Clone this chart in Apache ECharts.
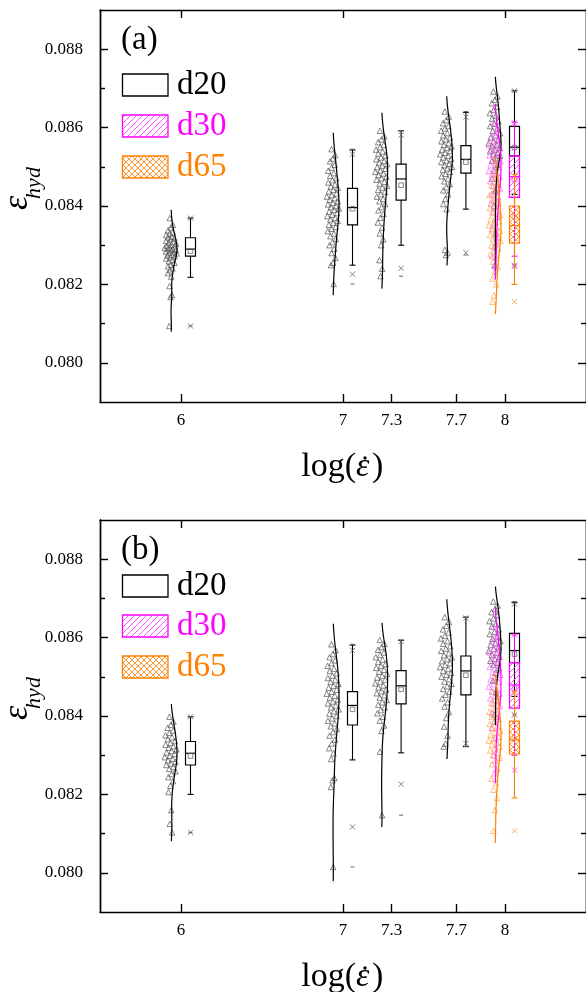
<!DOCTYPE html>
<html><head><meta charset="utf-8">
<script src="https://cdn.jsdelivr.net/npm/echarts@6/dist/echarts.min.js"></script>
<style>html,body{margin:0;padding:0;background:#fff}#c{width:586px;height:992px}</style>
</head><body><div id="c"></div>
<script>
// ---------------- data ----------------
const xCats = [6, 7, 7.3, 7.7, 8];
const xTickLabels = ['6', '7', '7.3', '7.7', '8'];
const topTicks = [6, 7, 8];
const yMajor = [0.080, 0.082, 0.084, 0.086, 0.088];
const yMinor = [0.081, 0.083, 0.085, 0.087];
const seriesNames = ['d20', 'd30', 'd65'];
const panelLabels = ['(a)', '(b)'];

// panel (a) raw points
const ptsA_d20 = [
  [0.08369,0.08352,0.08345,0.08338,0.08333,0.08330,0.08326,0.08322,0.08320,0.08318,0.08315,0.08311,0.08309,0.08306,0.08304,0.08301,0.08299,0.08297,0.08295,0.08293,0.08291,0.08290,0.08288,0.08287,0.08284,0.08282,0.08280,0.08279,0.08276,0.08274,0.08272,0.08269,0.08266,0.08263,0.08259,0.08255,0.08250,0.08246,0.08241,0.08236,0.08229,0.08220,0.08196,0.08173,0.08168,0.08094],
  [0.08545,0.08530,0.08521,0.08514,0.08505,0.08498,0.08490,0.08484,0.08477,0.08471,0.08466,0.08460,0.08455,0.08450,0.08446,0.08441,0.08437,0.08432,0.08428,0.08424,0.08420,0.08416,0.08412,0.08408,0.08404,0.08400,0.08397,0.08394,0.08390,0.08386,0.08382,0.08378,0.08374,0.08370,0.08366,0.08362,0.08357,0.08352,0.08347,0.08342,0.08336,0.08330,0.08323,0.08316,0.08308,0.08300,0.08291,0.08280,0.08268,0.08255,0.08249,0.08201],
  [0.08592,0.08578,0.08570,0.08563,0.08556,0.08550,0.08544,0.08539,0.08534,0.08529,0.08524,0.08519,0.08515,0.08511,0.08507,0.08503,0.08499,0.08495,0.08491,0.08487,0.08483,0.08479,0.08475,0.08471,0.08467,0.08462,0.08457,0.08452,0.08447,0.08441,0.08436,0.08430,0.08424,0.08418,0.08412,0.08405,0.08397,0.08389,0.08380,0.08370,0.08358,0.08345,0.08330,0.08315,0.08300,0.08262,0.08240,0.08221],
  [0.08641,0.08628,0.08619,0.08611,0.08604,0.08598,0.08592,0.08586,0.08580,0.08575,0.08570,0.08565,0.08560,0.08556,0.08552,0.08548,0.08544,0.08540,0.08536,0.08532,0.08528,0.08524,0.08520,0.08516,0.08512,0.08508,0.08504,0.08500,0.08496,0.08492,0.08487,0.08482,0.08476,0.08470,0.08463,0.08456,0.08448,0.08440,0.08430,0.08418,0.08405,0.08392,0.08288,0.08281,0.08275],
  [0.08692,0.08680,0.08671,0.08662,0.08653,0.08645,0.08637,0.08630,0.08623,0.08616,0.08610,0.08604,0.08598,0.08592,0.08586,0.08580,0.08575,0.08570,0.08565,0.08560,0.08556,0.08552,0.08548,0.08544,0.08540,0.08536,0.08532,0.08528,0.08522,0.08515,0.08505,0.08490,0.08470,0.08440,0.08400,0.08330,0.08249]
];
const ptsA_d30 = [null, null, null, null,
  [0.08612,0.08598,0.08586,0.08576,0.08568,0.08561,0.08555,0.08549,0.08544,0.08539,0.08534,0.08529,0.08524,0.08519,0.08514,0.08509,0.08504,0.08499,0.08494,0.08489,0.08484,0.08479,0.08474,0.08469,0.08463,0.08457,0.08451,0.08445,0.08438,0.08431,0.08424,0.08416,0.08407,0.08397,0.08386,0.08373,0.08358,0.08341,0.08320,0.08295,0.08272,0.08246]];
const ptsA_d65 = [null, null, null, null,
  [0.08481,0.08470,0.08461,0.08452,0.08444,0.08436,0.08428,0.08421,0.08414,0.08407,0.08401,0.08395,0.08389,0.08383,0.08377,0.08371,0.08366,0.08361,0.08356,0.08351,0.08346,0.08341,0.08336,0.08331,0.08326,0.08321,0.08316,0.08311,0.08305,0.08299,0.08292,0.08285,0.08277,0.08268,0.08258,0.08246,0.08232,0.08215,0.08200,0.08172,0.08156]];

// panel (a) box statistics: [whisker low, Q1, median, Q3, whisker high]
const boxA_d20 = [[0.08218,0.08272,0.08290,0.08319,0.08369],[0.08249,0.08352,0.08396,0.08445,0.08543],[0.08300,0.08415,0.08469,0.08507,0.08592],[0.08392,0.08484,0.08519,0.08554,0.08639],[0.08430,0.08528,0.08550,0.08603,0.08694]];
const meanA_d20 = [0.08285, 0.08393, 0.08453, 0.08512, 0.08549];
const p1A_d20 = [0.08094, 0.08226, 0.08241, 0.08281, 0.08249];
const p99A_d20 = [0.08369, 0.08532, 0.08581, 0.08627, 0.08694];
const minA_d20 = [0.08094, 0.08201, 0.08221, 0.08275, 0.08249];
const maxA_d20 = [0.08369, 0.08545, 0.08592, 0.08641, 0.08694];
const boxA_d30 = [null, null, null, null, [0.08272,0.08422,0.08475,0.08528,0.08614]];
const meanA_d30 = [null, null, null, null, 0.08468];
const p1A_d30 = [null, null, null, null, 0.08246];
const p99A_d30 = [null, null, null, null, 0.08612];
const boxA_d65 = [null, null, null, null, [0.08200,0.08305,0.08350,0.08400,0.08481]];
const meanA_d65 = [null, null, null, null, 0.08372];
const p1A_d65 = [null, null, null, null, 0.08156];
const p99A_d65 = [null, null, null, null, 0.08475];

// panel (b) raw points
const ptsB_d20 = [
  [0.08398,0.08386,0.08378,0.08370,0.08363,0.08357,0.08351,0.08346,0.08341,0.08336,0.08331,0.08327,0.08323,0.08319,0.08315,0.08311,0.08307,0.08303,0.08299,0.08295,0.08291,0.08287,0.08283,0.08279,0.08275,0.08270,0.08265,0.08259,0.08252,0.08244,0.08234,0.08222,0.08206,0.08160,0.08125,0.08103],
  [0.08583,0.08568,0.08558,0.08550,0.08542,0.08535,0.08528,0.08521,0.08515,0.08509,0.08503,0.08497,0.08492,0.08487,0.08482,0.08477,0.08472,0.08467,0.08462,0.08457,0.08452,0.08447,0.08442,0.08437,0.08432,0.08427,0.08422,0.08417,0.08412,0.08406,0.08400,0.08394,0.08388,0.08381,0.08374,0.08367,0.08359,0.08350,0.08340,0.08330,0.08318,0.08305,0.08290,0.08242,0.08236,0.08219,0.08015],
  [0.08594,0.08584,0.08576,0.08569,0.08562,0.08556,0.08550,0.08544,0.08538,0.08533,0.08528,0.08523,0.08518,0.08513,0.08508,0.08503,0.08498,0.08493,0.08488,0.08483,0.08478,0.08473,0.08468,0.08463,0.08458,0.08453,0.08447,0.08441,0.08435,0.08429,0.08422,0.08415,0.08407,0.08398,0.08388,0.08376,0.08362,0.08309,0.08147],
  [0.08652,0.08640,0.08630,0.08621,0.08613,0.08605,0.08598,0.08591,0.08584,0.08578,0.08572,0.08566,0.08560,0.08555,0.08550,0.08545,0.08540,0.08535,0.08530,0.08525,0.08520,0.08515,0.08510,0.08505,0.08500,0.08494,0.08488,0.08482,0.08476,0.08469,0.08462,0.08454,0.08445,0.08435,0.08424,0.08410,0.08395,0.08373,0.08350,0.08330,0.08322],
  [0.08692,0.08682,0.08673,0.08665,0.08657,0.08649,0.08642,0.08635,0.08628,0.08621,0.08615,0.08609,0.08603,0.08597,0.08591,0.08586,0.08581,0.08576,0.08571,0.08566,0.08561,0.08556,0.08551,0.08546,0.08541,0.08536,0.08530,0.08522,0.08510,0.08490,0.08460,0.08403]
];
const ptsB_d30 = [null, null, null, null,
  [0.08628,0.08612,0.08600,0.08590,0.08580,0.08571,0.08562,0.08554,0.08546,0.08539,0.08532,0.08525,0.08518,0.08511,0.08505,0.08499,0.08493,0.08487,0.08481,0.08475,0.08469,0.08463,0.08457,0.08451,0.08445,0.08439,0.08432,0.08425,0.08417,0.08408,0.08398,0.08386,0.08370,0.08345,0.08300,0.08262]];
const ptsB_d65 = [null, null, null, null,
  [0.08462,0.08450,0.08441,0.08433,0.08425,0.08418,0.08411,0.08404,0.08398,0.08392,0.08386,0.08380,0.08374,0.08368,0.08362,0.08357,0.08352,0.08347,0.08342,0.08337,0.08332,0.08327,0.08322,0.08317,0.08312,0.08306,0.08300,0.08293,0.08286,0.08277,0.08266,0.08254,0.08240,0.08229,0.08212,0.08191,0.08160,0.08107]];

const boxB_d20 = [[0.08200,0.08275,0.08305,0.08335,0.08398],[0.08288,0.08377,0.08427,0.08462,0.08581],[0.08306,0.08431,0.08477,0.08516,0.08593],[0.08322,0.08454,0.08515,0.08553,0.08652],[0.08450,0.08536,0.08567,0.08611,0.08689]];
const meanB_d20 = [0.08298, 0.08417, 0.08468, 0.08504, 0.08558];
const p1B_d20 = [0.08103, 0.08117, 0.08226, 0.08330, 0.08403];
const p99B_d20 = [0.08398, 0.08567, 0.08590, 0.08650, 0.08686];
const minB_d20 = [0.08103, 0.08015, 0.08147, 0.08322, 0.08403];
const maxB_d20 = [0.08398, 0.08583, 0.08594, 0.08652, 0.08692];
const boxB_d30 = [null, null, null, null, [0.08300,0.08420,0.08479,0.08536,0.08607]];
const meanB_d30 = [null, null, null, null, 0.08470];
const p1B_d30 = [null, null, null, null, 0.08262];
const p99B_d30 = [null, null, null, null, 0.08607];
const boxB_d65 = [null, null, null, null, [0.08191,0.08303,0.08339,0.08387,0.08462]];
const meanB_d65 = [null, null, null, null, 0.08343];
const p1B_d65 = [null, null, null, null, 0.08107];
const p99B_d65 = [null, null, null, null, 0.08460];

// ---------------- styling / layout ----------------
const FONT = 'Liberation Serif';
const COLORS = {
  d20: {line: '#000000', pt: '#555555', mark: '#666666'},
  d30: {line: '#FF00FF', pt: '#FF5CFF', mark: '#FF3CFF'},
  d65: {line: '#FF8000', pt: '#FFA347', mark: '#FF9A40'}
};
const VIOLIN_PX = -10, BOX_PX = 9.5;

function makePattern(kind, color, step) {
  const c = document.createElement('canvas');
  c.width = step; c.height = step;
  const g = c.getContext('2d');
  g.strokeStyle = color; g.lineWidth = 0.9;
  g.beginPath();
  g.moveTo(0, step); g.lineTo(step, 0);
  g.moveTo(-step / 2, step / 2); g.lineTo(step / 2, -step / 2);
  g.moveTo(step / 2, step * 1.5); g.lineTo(step * 1.5, step / 2);
  if (kind === 'cross') {
    g.moveTo(0, 0); g.lineTo(step, step);
    g.moveTo(-step / 2, step / 2); g.lineTo(step / 2, step * 1.5);
    g.moveTo(step / 2, -step / 2); g.lineTo(step * 1.5, step / 2);
  }
  g.stroke();
  return {image: c, repeat: 'repeat'};
}
const FILLS = {
  d20: () => 'rgba(0,0,0,0)',
  d30: () => makePattern('hatch', '#FF40FF', 6),
  d65: () => makePattern('cross', '#FF8C1A', 6)
};

function kde(vals) {
  const n = vals.length;
  const s = vals.slice().sort((a, b) => a - b);
  const mean = s.reduce((a, b) => a + b, 0) / n;
  const sd = Math.sqrt(s.reduce((a, b) => a + (b - mean) * (b - mean), 0) / (n - 1));
  const iqr = s[Math.floor(n * 0.75)] - s[Math.floor(n * 0.25)];
  const h = 0.9 * Math.min(sd, iqr / 1.34) * Math.pow(n, -0.2);
  const dens = y => s.reduce((a, v) => a + Math.exp(-0.5 * ((y - v) / h) ** 2), 0);
  const lo = s[0] - 0.9 * h, hi = s[n - 1] + 1.3 * h;
  const curve = [];
  let mx = 0;
  for (let k = 0; k <= 80; k++) {
    const y = lo + (hi - lo) * k / 80;
    const d = dens(y);
    mx = Math.max(mx, d);
    curve.push([y, d]);
  }
  curve.forEach(c => c[1] /= mx);
  return {curve, norm: y => dens(y) / mx, lo, hi};
}

function buildPanel(p, pts, boxes, means, p1s, p99s, mins, maxs) {
  const out = [];
  const xi = p * 2, yi = p * 4;
  seriesNames.forEach(name => {
    const col = COLORS[name];
    const fill = FILLS[name]();
    xCats.forEach((xc, ci) => {
      const vals = pts[name][ci];
      if (!vals) return;
      const k = kde(vals);
      out.push({
        type: 'scatter', xAxisIndex: xi, yAxisIndex: yi, silent: true, z: 2,
        symbol: 'triangle', symbolSize: 5.5,
        itemStyle: {color: 'rgba(255,255,255,0)', borderColor: col.pt, borderWidth: 0.7, opacity: 1},
        data: vals.map((v, i) => {
          const s = ((i * 0.6180339887 + 0.31) % 1) * 2 - 1;
          const dn = k.norm(v);
          return {value: [xc, v], symbolOffset: [VIOLIN_PX - 0.5 + s * (1.3 + 5.2 * dn), 0]};
        })
      });
      out.push({
        type: 'custom', xAxisIndex: xi, yAxisIndex: yi, silent: true, z: 3,
        encode: {x: 0, y: [1, 2]},
        data: [[xc, k.lo, k.hi]],
        renderItem: (params, api) => {
          const x = api.value(0);
          const points = k.curve.map(([y, d]) => {
            const c = api.coord([x, y]);
            return [c[0] + VIOLIN_PX + d * 6, c[1]];
          });
          return {type: 'polyline', shape: {points}, style: {stroke: col.line, lineWidth: 1.2, fill: null}};
        }
      });
    });
    xCats.forEach((xc, ci) => {
      const b = boxes[name][ci];
      if (!b) return;
      const row = [xc, b[0], b[1], b[2], b[3], b[4], means[name][ci], p1s[name][ci], p99s[name][ci],
        mins[name] ? mins[name][ci] : null, maxs[name] ? maxs[name][ci] : null];
      out.push({
        type: 'custom', xAxisIndex: xi, yAxisIndex: yi, silent: true, z: 4,
        encode: {x: 0, y: [1, 5]},
        data: [row],
        renderItem: (params, api) => {
          const x = api.value(0);
          const Y = i => { const v = api.value(i); return (v == null || isNaN(v)) ? null : api.coord([x, v])[1]; };
          const cx = api.coord([x, api.value(3)])[0] + BOX_PX;
          const ch = [];
          const L = (x1, y1, x2, y2, c, w) => ch.push({type: 'line', shape: {x1, y1, x2, y2}, style: {stroke: c, lineWidth: w}});
          const yl = Y(1), q1 = Y(2), md = Y(3), q3 = Y(4), yh = Y(5), mn = Y(6), a1 = Y(7), a99 = Y(8), y0 = Y(9), y1 = Y(10);
          L(cx, yh, cx, q3, col.line, 1.1);
          L(cx, q1, cx, yl, col.line, 1.1);
          L(cx - 3, yh, cx + 3, yh, col.line, 1.1);
          L(cx - 3, yl, cx + 3, yl, col.line, 1.1);
          ch.push({type: 'rect', shape: {x: cx - 5, y: q3, width: 10, height: q1 - q3}, style: {fill: fill, stroke: col.line, lineWidth: 1.2}});
          L(cx - 5, md, cx + 5, md, col.line, 1.2);
          if (mn != null) ch.push({type: 'rect', shape: {x: cx - 2.3, y: mn - 2.3, width: 4.6, height: 4.6}, style: {fill: 'rgba(0,0,0,0)', stroke: col.mark, lineWidth: 0.8}});
          [a1, a99].forEach(yy => { if (yy != null) { L(cx - 2.6, yy - 2.6, cx + 2.6, yy + 2.6, col.mark, 0.8); L(cx - 2.6, yy + 2.6, cx + 2.6, yy - 2.6, col.mark, 0.8); } });
          [y0, y1].forEach(yy => { if (yy != null) L(cx - 2, yy, cx + 2, yy, col.mark, 1); });
          return {type: 'group', children: ch};
        }
      });
    });
  });
  return out;
}

const GRID_TOPS = [10, 520];
const GRID_H = 392;
const grids = GRID_TOPS.map(t => ({left: 100, top: t, width: 486, height: GRID_H, containLabel: false}));

const axisLine = {show: true, lineStyle: {color: '#000', width: 1.4}};
const labelStyle = {fontSize: 17, fontFamily: FONT, fontWeight: 'normal', color: '#000'};
const xAxes = [], yAxes = [];
[0, 1].forEach(p => {
  xAxes.push({
    type: 'value', gridIndex: p, min: 5.5, max: 8.5, position: 'bottom',
    axisLine, splitLine: {show: false},
    axisTick: {show: true, inside: true, length: 8, customValues: xCats, lineStyle: {color: '#000', width: 1.4}},
    axisLabel: Object.assign({show: true, customValues: xCats, formatter: v => xTickLabels[xCats.indexOf(+(+v).toFixed(1))] || String(v), margin: 10}, labelStyle)
  });
  xAxes.push({
    type: 'value', gridIndex: p, min: 5.5, max: 8.5, position: 'top',
    axisLine, splitLine: {show: false},
    axisTick: {show: true, inside: true, length: 8, customValues: topTicks, lineStyle: {color: '#000', width: 1.4}},
    axisLabel: {show: false}
  });
  const yBase = {type: 'value', gridIndex: p, min: 0.079, max: 0.089, splitLine: {show: false}, axisLine};
  yAxes.push(Object.assign({}, yBase, {
    position: 'left',
    axisTick: {show: true, inside: true, length: 8, customValues: yMajor, lineStyle: {color: '#000', width: 1.4}},
    axisLabel: Object.assign({show: true, customValues: yMajor, formatter: v => (+v).toFixed(3), margin: 17}, labelStyle)
  }));
  yAxes.push(Object.assign({}, yBase, {
    position: 'left',
    axisTick: {show: true, inside: true, length: 5, customValues: yMinor, lineStyle: {color: '#000', width: 1.4}},
    axisLabel: {show: false}
  }));
  yAxes.push(Object.assign({}, yBase, {
    position: 'right',
    axisTick: {show: true, inside: true, length: 8, customValues: yMajor, lineStyle: {color: '#000', width: 1.4}},
    axisLabel: {show: false}
  }));
  yAxes.push(Object.assign({}, yBase, {
    position: 'right',
    axisTick: {show: true, inside: true, length: 5, customValues: yMinor, lineStyle: {color: '#000', width: 1.4}},
    axisLabel: {show: false}
  }));
});

const series = [].concat(
  buildPanel(0,
    {d20: ptsA_d20, d30: ptsA_d30, d65: ptsA_d65},
    {d20: boxA_d20, d30: boxA_d30, d65: boxA_d65},
    {d20: meanA_d20, d30: meanA_d30, d65: meanA_d65},
    {d20: p1A_d20, d30: p1A_d30, d65: p1A_d65},
    {d20: p99A_d20, d30: p99A_d30, d65: p99A_d65},
    {d20: minA_d20}, {d20: maxA_d20}),
  buildPanel(1,
    {d20: ptsB_d20, d30: ptsB_d30, d65: ptsB_d65},
    {d20: boxB_d20, d30: boxB_d30, d65: boxB_d65},
    {d20: meanB_d20, d30: meanB_d30, d65: meanB_d65},
    {d20: p1B_d20, d30: p1B_d30, d65: p1B_d65},
    {d20: p99B_d20, d30: p99B_d30, d65: p99B_d65},
    {d20: minB_d20}, {d20: maxB_d20})
);

// legends, panel labels, axis names
const legendTops = [[74, 115, 156], [575, 615, 656]];
const labelY = [40, 550];
const yNameY = [195, 705];
const xNameY = [467, 977];
const graphic = [];
[0, 1].forEach(p => {
  graphic.push({type: 'text', x: 121, y: labelY[p], style: {text: panelLabels[p], fontSize: 33, fontFamily: FONT, fill: '#000', verticalAlign: 'middle'}});
  seriesNames.forEach((nm, i) => {
    const top = legendTops[p][i];
    graphic.push({type: 'rect', shape: {x: 122.5, y: top, width: 45.5, height: 22}, style: {fill: nm === 'd20' ? '#fff' : FILLS[nm](), stroke: COLORS[nm].line, lineWidth: 1.3}});
    graphic.push({type: 'text', x: 177, y: top + 11, style: {text: nm, fontSize: 33, fontFamily: FONT, fill: nm === 'd20' ? '#000' : COLORS[nm].line, verticalAlign: 'middle'}});
  });
  graphic.push({
    type: 'group', x: 26, y: yNameY[p], rotation: Math.PI / 2,
    children: [
      {type: 'text', x: -8, y: -8, style: {text: 'ε', fontSize: 36, fontStyle: 'italic', fontFamily: FONT, fill: '#000', align: 'center', verticalAlign: 'middle'}},
      {type: 'text', x: 12, y: 8, style: {text: 'hyd', fontSize: 22, fontStyle: 'italic', fontFamily: FONT, fill: '#000', align: 'center', verticalAlign: 'middle'}}
    ]
  });
  const yy = xNameY[p];
  graphic.push({type: 'text', x: 356, y: yy, style: {text: 'log(', fontSize: 34, fontFamily: FONT, fill: '#000', align: 'right', verticalAlign: 'middle'}});
  graphic.push({type: 'text', x: 356, y: yy, style: {text: 'ε', fontSize: 34, fontStyle: 'italic', fontFamily: FONT, fill: '#000', align: 'left', verticalAlign: 'middle'}});
  graphic.push({type: 'text', x: 372, y: yy, style: {text: ')', fontSize: 34, fontFamily: FONT, fill: '#000', align: 'left', verticalAlign: 'middle'}});
  graphic.push({type: 'circle', shape: {cx: 365, cy: yy - 9, r: 1.7}, style: {fill: '#000'}});
});

const chart = echarts.init(document.getElementById('c'), null, {renderer: 'canvas'});
chart.setOption({
  animation: false,
  backgroundColor: '#fff',
  textStyle: {fontFamily: FONT, fontSize: 17, color: '#000'},
  grid: grids,
  xAxis: xAxes,
  yAxis: yAxes,
  series,
  graphic
});
</script>
</body></html>
